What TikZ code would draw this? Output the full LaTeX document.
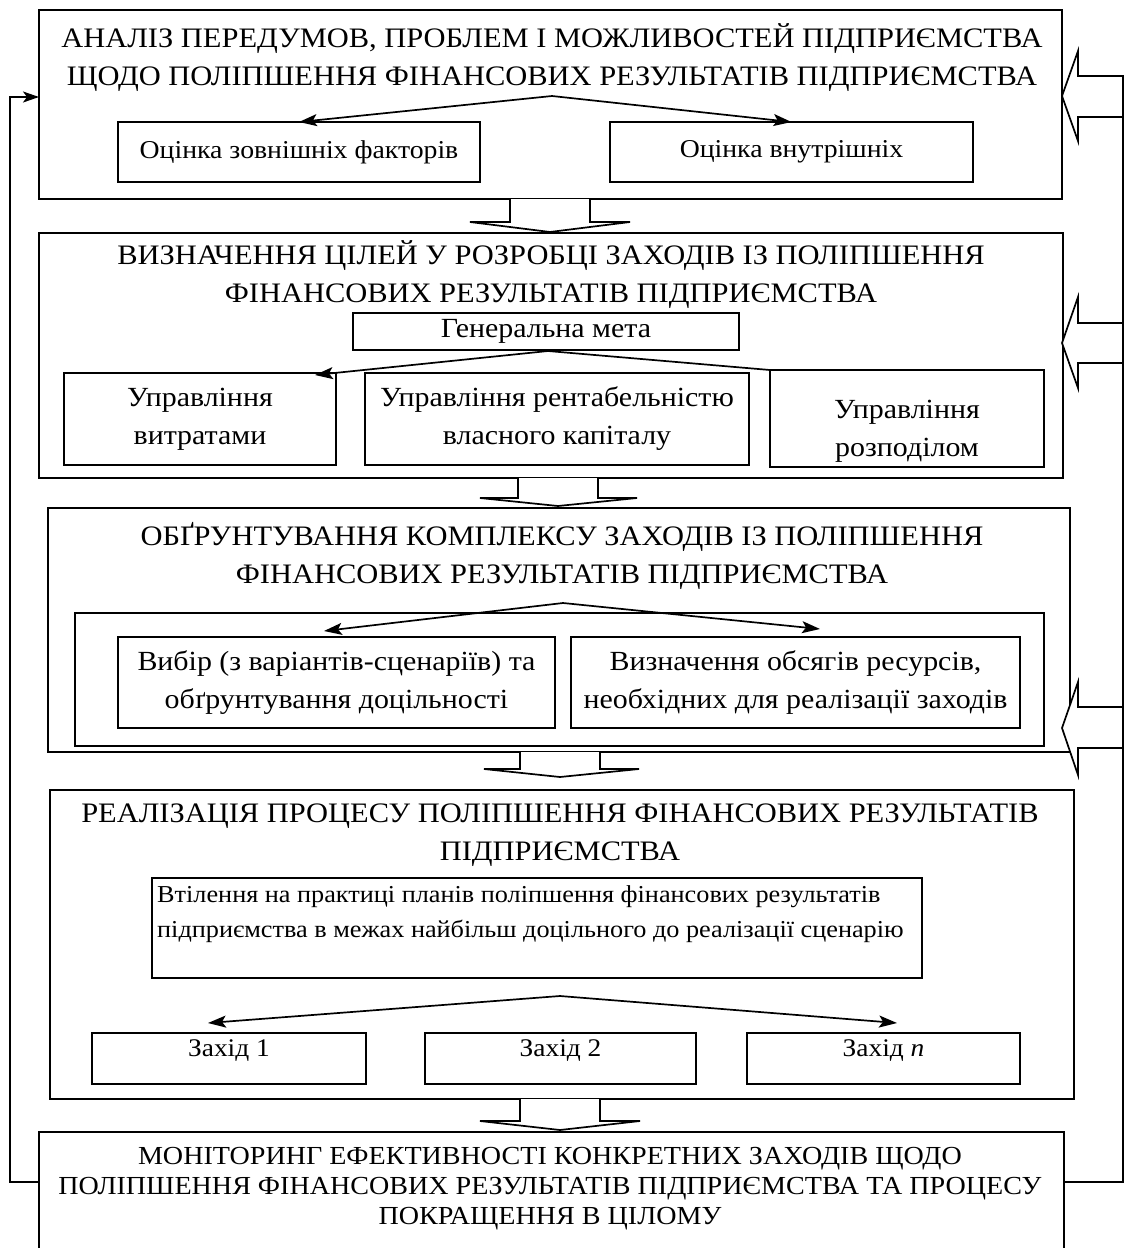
\documentclass[tikz,border=0pt]{standalone}
\usepackage{fontspec}
\setmainfont[FakeStretch=1.08]{Liberation Serif}
\usetikzlibrary{arrows.meta,calc}
\begin{document}
\begin{tikzpicture}[x=1pt,y=-1pt,
  frame/.style={draw, line width=1.7pt, inner sep=0pt, outer sep=0pt},
  title/.style={align=center, inner sep=0pt, font=\fontsize{28.2}{38}\selectfont},
  subA/.style={align=center, inner sep=0pt, font=\fontsize{25.7}{38}\selectfont},
  subB/.style={align=center, inner sep=0pt, font=\fontsize{27.7}{38}\selectfont},
  subC/.style={align=center, inner sep=0pt, font=\fontsize{25.4}{38}\selectfont},
  arr/.style={line width=1.7pt, -{Stealth[length=18pt,width=12pt,inset=4pt]}},
  ln/.style={line width=1.7pt},
  blk/.style={line width=1.7pt, fill=white, line join=miter}]
\useasboundingbox (0,0) rectangle (1124,1248);
\clip (0,0) rectangle (1124,1248);
\fill[white] (0,0) rectangle (1124,1248);

% ---------- block 1
\node[frame, minimum width=1023, minimum height=189] (b1) at (550.5,104.5) {};
\node[title] (t1) at (552,58) {АНАЛІЗ ПЕРЕДУМОВ, ПРОБЛЕМ І МОЖЛИВОСТЕЙ ПІДПРИЄМСТВА\\ЩОДО ПОЛІПШЕННЯ ФІНАНСОВИХ РЕЗУЛЬТАТІВ ПІДПРИЄМСТВА};
\node[frame, subA, minimum width=362, minimum height=60] (ozf) at (299,152) {Оцінка зовнішніх факторів};
\node[frame, subA, minimum width=363, minimum height=60] (ovf) at (791.5,152) {Оцінка внутрішніх};
\coordinate (a1) at (552,96);
\draw[arr] (a1) -- (ozf.north);
\draw[arr] (a1) -- (ovf.north);

% ---------- block 2
\node[frame, minimum width=1024, minimum height=245] (b2) at (551,355.5) {};
\node[title] (t2) at (551,275) {ВИЗНАЧЕННЯ ЦІЛЕЙ У РОЗРОБЦІ ЗАХОДІВ ІЗ ПОЛІПШЕННЯ\\ФІНАНСОВИХ РЕЗУЛЬТАТІВ ПІДПРИЄМСТВА};
\node[frame, subB, minimum width=386, minimum height=37] (gm) at (546,331.5) {Генеральна мета};
\node[frame, subB, minimum width=272, minimum height=92] (uv) at (200,419) {Управління\\витратами};
\node[frame, subB, minimum width=384, minimum height=92] (urk) at (557,419) {Управління рентабельністю\\власного капіталу};
\node[frame, minimum width=274, minimum height=97] (urz) at (907,418.5) {};
\node[subB] (urzt) at (907,431) {Управління\\розподілом};
\coordinate (a2) at (548,351);
\coordinate (a2l) at (315,375);
\draw[arr] (a2) -- (a2l);
\draw[ln] (a2) -- (urz.north west);

% ---------- block 3
\node[frame, minimum width=1022, minimum height=244] (b3) at (559,630) {};
\node[title] (t3) at (562,556) {ОБҐРУНТУВАННЯ КОМПЛЕКСУ ЗАХОДІВ ІЗ ПОЛІПШЕННЯ\\ФІНАНСОВИХ РЕЗУЛЬТАТІВ ПІДПРИЄМСТВА};
\node[frame, minimum width=969, minimum height=133] (cont) at (559.5,679.5) {};
\node[frame, subB, minimum width=437, minimum height=91] (vyb) at (336.5,682.5) {Вибір (з варіантів-сценаріїв) та\\обґрунтування доцільності};
\node[frame, subB, minimum width=449, minimum height=91] (viz) at (795.5,682.5) {Визначення обсягів ресурсів,\\необхідних для реалізації заходів};
\coordinate (a3) at (563,603);
\coordinate (a3l) at (324,631);
\coordinate (a3r) at (820,629);
\draw[arr] (a3) -- (a3l);
\draw[arr] (a3) -- (a3r);

% ---------- block 4
\node[frame, minimum width=1024, minimum height=309] (b4) at (562,944.5) {};
\node[title] (t4) at (560,835) {РЕАЛІЗАЦІЯ ПРОЦЕСУ ПОЛІПШЕННЯ ФІНАНСОВИХ РЕЗУЛЬТАТІВ\\ПІДПРИЄМСТВА};
\node[frame, minimum width=770, minimum height=100] (vt) at (537,928) {};
\node[align=left, inner sep=0pt, anchor=north west, font=\fontsize{24.3}{35}\selectfont] (vtt) at (157,885) {Втілення на практиці планів поліпшення фінансових результатів\\підприємства в межах найбільш доцільного до реалізації сценарію};
\coordinate (a4) at (560,996);
\coordinate (a4l) at (208,1023);
\coordinate (a4r) at (897,1023);
\draw[arr] (a4) -- (a4l);
\draw[arr] (a4) -- (a4r);
\node[frame, minimum width=274, minimum height=51] (z1) at (229,1058.5) {};
\node[frame, minimum width=271, minimum height=51] (z2) at (560.5,1058.5) {};
\node[frame, minimum width=273, minimum height=51] (zn) at (883.5,1058.5) {};
\node[subC] (z1t) at (229,1051) {Захід 1};
\node[subC] (z2t) at (560.5,1051) {Захід 2};
\node[subC] (znt) at (883.5,1051) {Захід \textit{n}};

% ---------- block 5
\node[frame, minimum width=1025, minimum height=138] (b5) at (551.5,1201) {};
\node[align=center, inner sep=0pt, font=\fontsize{26}{30}\selectfont] (t5) at (550,1189) {МОНІТОРИНГ ЕФЕКТИВНОСТІ КОНКРЕТНИХ ЗАХОДІВ ЩОДО\\ПОЛІПШЕННЯ ФІНАНСОВИХ РЕЗУЛЬТАТІВ ПІДПРИЄМСТВА ТА ПРОЦЕСУ\\ПОКРАЩЕННЯ В ЦІЛОМУ};

% ---------- down block arrows
\draw[blk] (510,199) -- (510,222) -- (470,222) -- (550,232) -- (630,222) -- (590,222) -- (590,199);
\draw[blk] (518,478) -- (518,498) -- (480,498) -- (558,506) -- (637,498) -- (598,498) -- (598,478);
\draw[blk] (520,752) -- (520,769) -- (484,769) -- (560,777) -- (639,769) -- (600,769) -- (600,752);
\draw[blk] (520,1099) -- (520,1121) -- (480,1121) -- (560,1130) -- (640,1121) -- (600,1121) -- (600,1099);

% ---------- feedback, left
\coordinate (fl1) at (10,1182);
\coordinate (fl2) at (10,97);
\draw[line width=1.7pt, -{Stealth[length=16pt,width=11pt,inset=4pt]}] (b5.west |- fl1) -- (fl1) -- (fl2) -- (b1.west |- fl2);

% ---------- feedback, right
\draw[blk] (1124,76) -- (1078,76) -- (1078,51) -- (1062,96) -- (1078,141) -- (1078,117) -- (1124,117);
\draw[blk] (1124,323) -- (1078,323) -- (1078,297) -- (1062,343) -- (1078,388) -- (1078,363) -- (1124,363);
\draw[blk] (1124,707) -- (1078,707) -- (1078,682) -- (1062,728) -- (1078,775) -- (1078,748) -- (1124,748);
\coordinate (fr1) at (1123,1182);
\coordinate (fr2) at (1123,76);
\draw[ln] (b5.east |- fr1) -- (fr1) -- (fr2);
\end{tikzpicture}
\end{document}
